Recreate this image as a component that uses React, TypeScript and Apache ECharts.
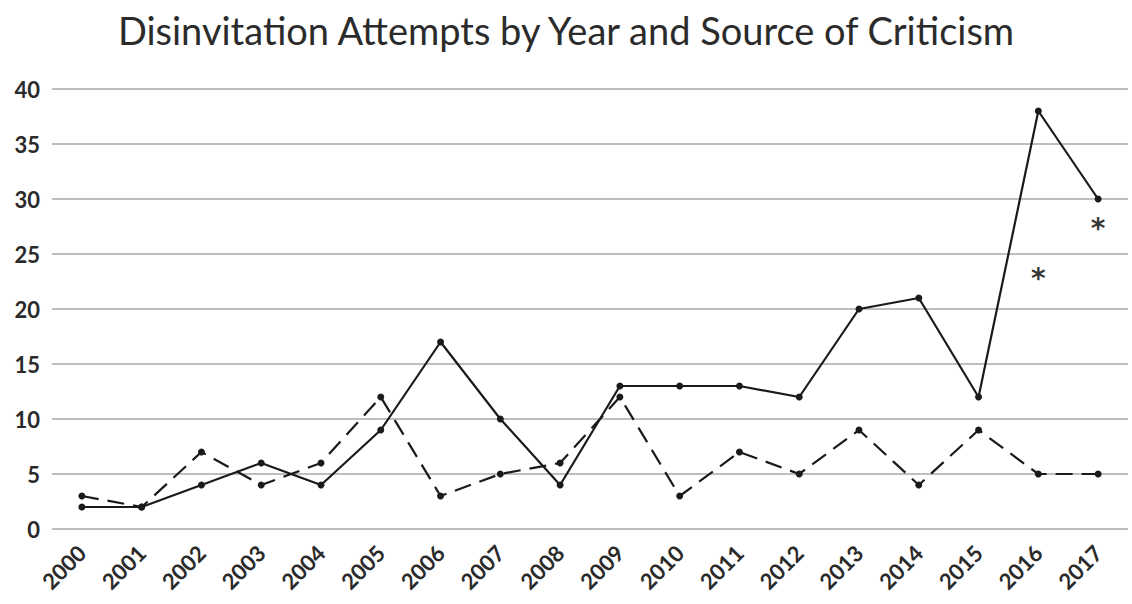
import React, { useEffect, useRef } from "react";
import * as echarts from "echarts";

const years = ["2000","2001","2002","2003","2004","2005","2006","2007","2008","2009","2010","2011","2012","2013","2014","2015","2016","2017"];
const solidValues = [2, 2, 4, 6, 4, 9, 17, 10, 4, 13, 13, 13, 12, 20, 21, 12, 38, 30];
const dashedValues = [3, 2, 7, 4, 6, 12, 3, 5, 6, 12, 3, 7, 5, 9, 4, 9, 5, 5];
const asteriskMarks: [number, number][] = [[16, 23.3], [17, 27.9]];
const yTicks = [0, 5, 10, 15, 20, 25, 30, 35, 40];

export default function App() {
  const ref = useRef<HTMLDivElement>(null);
  useEffect(() => {
    if (!ref.current) return;
    const chart = echarts.init(ref.current, null, { renderer: "svg" });
    const font = "Lato, 'Open Sans', sans-serif";
    chart.setOption({
      animation: false,
      backgroundColor: "#ffffff",
      title: {
        text: "Disinvitation Attempts by Year and Source of Criticism",
        left: "center",
        top: 6,
        textStyle: { fontFamily: font, fontSize: 38, fontWeight: "normal", color: "#2b2b2b" },
      },
      grid: { left: 52, right: 4, top: 89, bottom: 75, containLabel: false },
      xAxis: {
        type: "category",
        data: years,
        boundaryGap: true,
        axisLine: { show: false },
        axisTick: { show: false },
        axisLabel: {
          rotate: 45,
          margin: 20,
          fontFamily: font,
          fontSize: 22,
          fontWeight: "bold",
          color: "#2a2a2a",
          interval: 0,
        },
      },
      yAxis: {
        type: "value",
        min: yTicks[0],
        max: yTicks[yTicks.length - 1],
        interval: 5,
        axisLine: { show: false },
        axisTick: { show: false },
        axisLabel: { fontFamily: font, fontSize: 22, fontWeight: "bold", color: "#2a2a2a", margin: 12 },
        splitLine: { lineStyle: { color: "#a9a9ad", width: 1.5 } },
      },
      series: [
        {
          name: "Solid",
          type: "line",
          data: solidValues,
          symbol: "circle",
          symbolSize: 7,
          itemStyle: { color: "#1a1a1a" },
          lineStyle: { color: "#1a1a1a", width: 2.2 },
          z: 3,
        },
        {
          name: "Dashed",
          type: "line",
          data: dashedValues,
          symbol: "circle",
          symbolSize: 7,
          itemStyle: { color: "#1a1a1a" },
          lineStyle: { color: "#1a1a1a", width: 2.2, type: [17, 9] },
          z: 3,
        },
        {
          name: "Note",
          type: "scatter",
          data: asteriskMarks,
          symbol: "circle",
          symbolSize: 0,
          label: {
            show: true,
            position: "inside",
            formatter: "*",
            fontFamily: "'DejaVu Sans', sans-serif",
            fontSize: 28,
            fontWeight: "bold",
            color: "#000",
            textBorderWidth: 0,
            offset: [0, 6],
          },
          z: 4,
        },
      ],
    });
    return () => chart.dispose();
  }, []);
  return (
    <div
      ref={ref}
      style={{ position: "absolute", left: 0, top: 0, width: 1132, height: 604 }}
    />
  );
}
